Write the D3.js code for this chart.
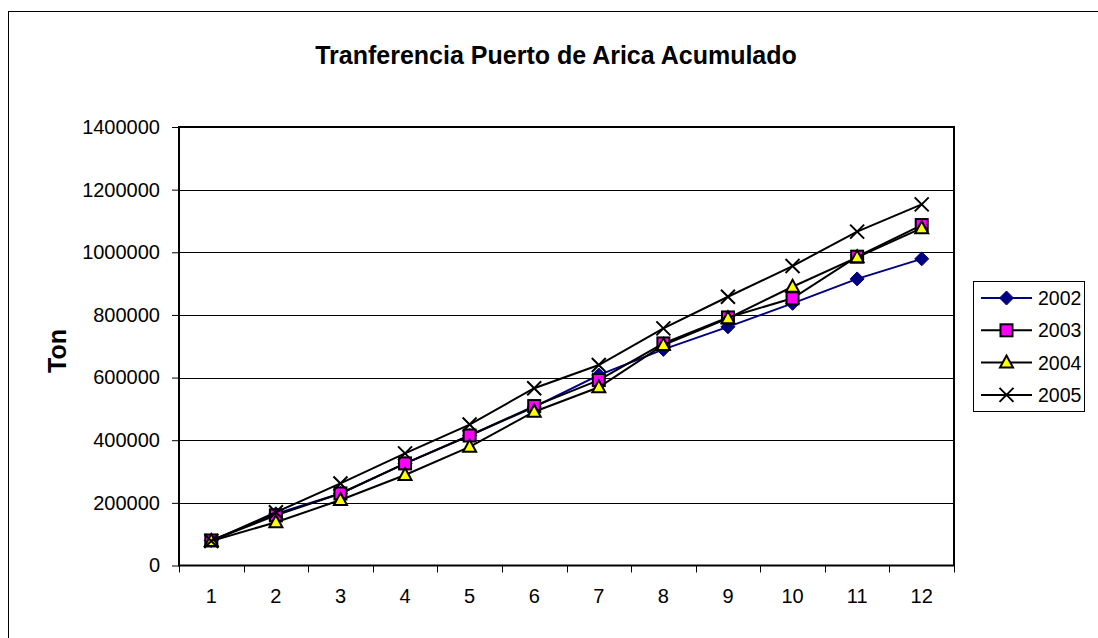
<!DOCTYPE html>
<html>
<head>
<meta charset="utf-8">
<script src="https://cdn.jsdelivr.net/npm/d3@7/dist/d3.min.js"></script>
<style>
  html, body { margin: 0; padding: 0; background: #fff; }
  svg { display: block; font-family: "Liberation Sans", Arial, sans-serif; }
</style>
</head>
<body>
<svg id="chart" width="1098" height="638"></svg>
<script>
const months = [1, 2, 3, 4, 5, 6, 7, 8, 9, 10, 11, 12];
const years = ["2002", "2003", "2004", "2005"];
const s2002 = [80000, 165000, 230000, 325000, 415000, 506000, 608000, 690000, 762000, 837000, 915000, 979000];
const s2003 = [80000, 160000, 230000, 326000, 415000, 509000, 592000, 709000, 792000, 853000, 986000, 1087000];
const s2004 = [78000, 138000, 209000, 289000, 379000, 491000, 569000, 704000, 789000, 890000, 984000, 1077000];
const s2005 = [78000, 170000, 262000, 358000, 450000, 566000, 640000, 757000, 858000, 956000, 1066000, 1153000];
const yTicks = [0, 200000, 400000, 600000, 800000, 1000000, 1200000, 1400000];
const titleText = "Tranferencia Puerto de Arica Acumulado";
const yTitle = "Ton";

const seriesValues = [s2002, s2003, s2004, s2005];
const seriesStyle = [
  { color: "#000080", marker: "diamond", fill: "#000080", stroke: "#000080" },
  { color: "#000000", marker: "square", fill: "#FF00FF", stroke: "#000000" },
  { color: "#000000", marker: "triangle", fill: "#FFFF00", stroke: "#000000" },
  { color: "#000000", marker: "cross", fill: "none", stroke: "#000000" }
];

const svg = d3.select("#chart");
const L = 179, R = 954, T = 127, B = 565.5;
const FONT = "Liberation Sans, Arial, sans-serif";

// outer chart border
svg.append("rect").attr("x", 8.5).attr("y", 11.5).attr("width", 1100).attr("height", 700)
  .attr("fill", "#fff").attr("stroke", "#000").attr("stroke-width", 1);

const x = d3.scaleBand().domain(months).range([L, R]).padding(0);
const y = d3.scaleLinear().domain([0, 1400000]).range([B, T]);
const cx = d => x(d) + x.bandwidth() / 2;

// gridlines
svg.append("g").selectAll("line").data(yTicks.slice(1)).join("line")
  .attr("x1", L).attr("x2", R)
  .attr("y1", d => Math.round(y(d)) + 0.5).attr("y2", d => Math.round(y(d)) + 0.5)
  .attr("stroke", "#000").attr("stroke-width", 1);

// Y axis
const yAxis = svg.append("g").attr("transform", `translate(${L},0)`)
  .call(d3.axisLeft(y).tickValues(yTicks).tickSize(7).tickPadding(12).tickFormat(d3.format("d")));
yAxis.select(".domain").remove();
yAxis.selectAll(".tick line").attr("stroke", "#000");
yAxis.selectAll("text").attr("font-size", 20).attr("fill", "#000").attr("font-family", FONT);

// X axis
const xAxis = svg.append("g").attr("transform", `translate(0,${B})`)
  .call(d3.axisBottom(x).tickSize(0).tickPadding(23));
xAxis.select(".domain").remove();
xAxis.selectAll("text").attr("font-size", 20).attr("fill", "#000").attr("font-family", FONT);
// category boundary ticks
svg.append("g").selectAll("line").data(months.concat([13])).join("line")
  .attr("x1", d => d <= 12 ? Math.round(x(d)) + 0.5 : R + 0.5)
  .attr("x2", d => d <= 12 ? Math.round(x(d)) + 0.5 : R + 0.5)
  .attr("y1", B).attr("y2", B + 7).attr("stroke", "#000");

// plot frame
svg.append("rect").attr("x", L).attr("y", T).attr("width", R - L).attr("height", B - T)
  .attr("fill", "none").attr("stroke", "#000").attr("stroke-width", 2);

// title
svg.append("text").attr("x", 556).attr("y", 64).attr("text-anchor", "middle")
  .attr("font-size", 25).attr("font-weight", "bold").text(titleText);

// y title
svg.append("text").attr("transform", "translate(66,351) rotate(-90)")
  .attr("text-anchor", "middle").attr("font-size", 25).attr("font-weight", "bold").text(yTitle);

function drawMarker(g, type, px, py, st) {
  if (type === "diamond") {
    g.append("path").attr("d", `M${px},${py - 7}L${px + 7},${py}L${px},${py + 7}L${px - 7},${py}Z`)
      .attr("fill", st.fill).attr("stroke", st.stroke).attr("stroke-width", 1);
  } else if (type === "square") {
    g.append("rect").attr("x", px - 6).attr("y", py - 6).attr("width", 12).attr("height", 12)
      .attr("fill", st.fill).attr("stroke", st.stroke).attr("stroke-width", 2);
  } else if (type === "triangle") {
    g.append("path").attr("d", `M${px},${py - 7}L${px + 6.5},${py + 5}L${px - 6.5},${py + 5}Z`)
      .attr("fill", st.fill).attr("stroke", st.stroke).attr("stroke-width", 2).attr("stroke-linejoin", "miter");
  } else if (type === "cross") {
    g.append("path").attr("d", `M${px - 7},${py - 7}L${px + 7},${py + 7}M${px + 7},${py - 7}L${px - 7},${py + 7}`)
      .attr("fill", "none").attr("stroke", st.stroke).attr("stroke-width", 2);
  }
}

const line = d3.line().x((d, i) => cx(months[i])).y(d => y(d));
seriesValues.forEach((vals, si) => {
  const st = seriesStyle[si];
  const g = svg.append("g");
  g.append("path").datum(vals).attr("d", line).attr("fill", "none")
    .attr("stroke", st.color).attr("stroke-width", 2);
  vals.forEach((v, i) => drawMarker(g, st.marker, cx(months[i]), y(v), st));
});

// legend
const lg = svg.append("g");
lg.append("rect").attr("x", 973.5).attr("y", 281.5).attr("width", 111).attr("height", 130)
  .attr("fill", "#fff").attr("stroke", "#000").attr("stroke-width", 1);
years.forEach((yr, i) => {
  const ly = 298 + i * 32.3;
  const st = seriesStyle[i];
  lg.append("line").attr("x1", 981).attr("x2", 1032).attr("y1", ly).attr("y2", ly)
    .attr("stroke", st.color).attr("stroke-width", 2);
  drawMarker(lg, st.marker, 1006.5, ly, st);
  lg.append("text").attr("x", 1038).attr("y", ly + 7).attr("font-size", 19.5).text(yr);
});
</script>
</body>
</html>
